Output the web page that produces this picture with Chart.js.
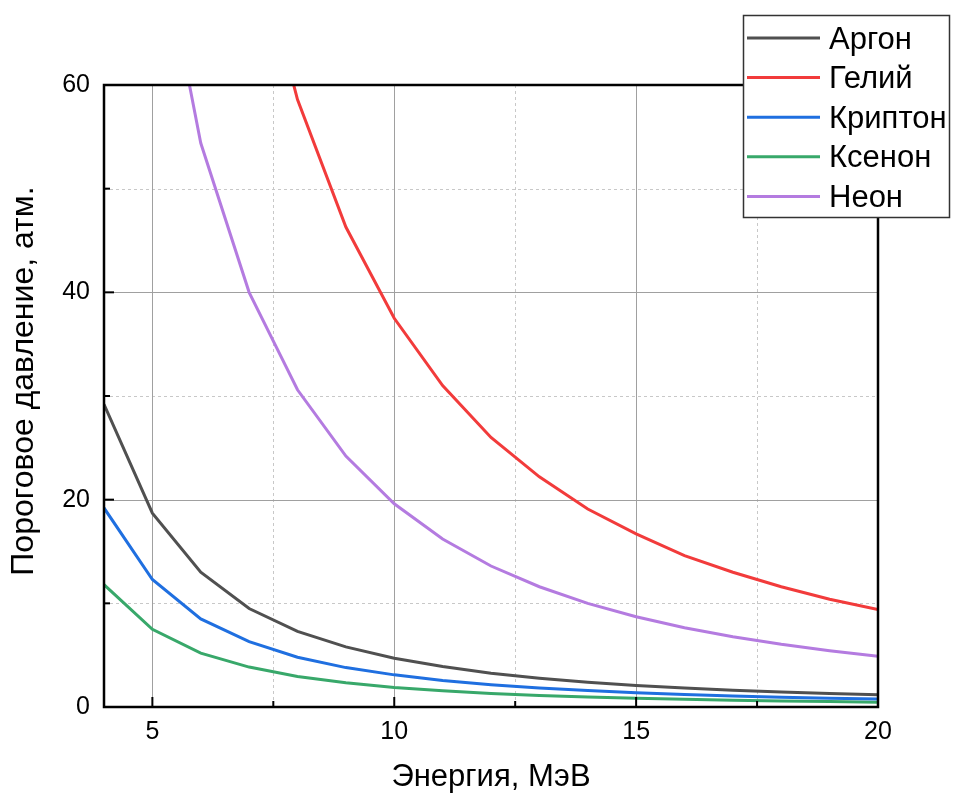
<!DOCTYPE html>
<html>
<head>
<meta charset="utf-8">
<script src="https://cdn.jsdelivr.net/npm/chart.js@4.4.1/dist/chart.umd.min.js"></script>
<style>
  body { margin: 0; background: #fff; }
</style>
</head>
<body>
<canvas id="gas" width="954" height="796"></canvas>
<script>
// энергия, МэВ
energy = [4, 5, 6, 7, 8, 9, 10, 11, 12, 13, 14, 15, 16, 17, 18, 19, 20];

// пороговое давление, атм.
argon   = [29.2, 18.7, 13.0, 9.5, 7.3, 5.8, 4.7, 3.9, 3.25, 2.77, 2.39, 2.08, 1.83, 1.62, 1.45, 1.3, 1.18];
helium  = [234, 150, 104, 76.5, 58.6, 46.3, 37.5, 31.0, 26.0, 22.2, 19.1, 16.7, 14.6, 13.0, 11.6, 10.4, 9.4];
krypton = [19.2, 12.3, 8.5, 6.3, 4.8, 3.8, 3.1, 2.55, 2.15, 1.83, 1.58, 1.37, 1.2, 1.07, 0.95, 0.85, 0.77];
xenon   = [11.8, 7.5, 5.2, 3.85, 2.95, 2.33, 1.89, 1.56, 1.31, 1.12, 0.96, 0.84, 0.74, 0.65, 0.58, 0.52, 0.47];
neon    = [122.5, 78.4, 54.4, 40.0, 30.6, 24.2, 19.6, 16.2, 13.6, 11.6, 10.0, 8.7, 7.65, 6.78, 6.05, 5.43, 4.9];

gasNames  = ['Аргон', 'Гелий', 'Криптон', 'Ксенон', 'Неон'];
gasColors = ['#505050', '#f23b3b', '#1f6fe0', '#38a86a', '#b47be0'];

xTicks = [5, 10, 15, 20];
xMinor = [7.5, 12.5, 17.5];
yTicks = [0, 20, 40, 60];
yMinor = [10, 30, 50];

xTitle = 'Энергия, МэВ';
yTitle = 'Пороговое давление, атм.';

var FONT = 'Arial, "Liberation Sans", sans-serif';

function xy(ys){
  var pts = [];
  for(let i = 0; i < energy.length; i++){
    pts.push({x: energy[i], y: ys[i]});
  }
  return pts;
}

var series = [argon, helium, krypton, xenon, neon];
var datasets = [];
for(let i = 0; i < series.length; i++){
  datasets.push({
    label: gasNames[i],
    data: xy(series[i]),
    borderColor: gasColors[i],
    backgroundColor: gasColors[i],
    borderWidth: 3,
    pointRadius: 0,
    tension: 0
  });
}

// сетка, рамка, внутренние засечки, подпись оси Y и легенда
var framePlugin = {
  id: 'frame',
  beforeDatasetsDraw(chart){
    var c = chart.ctx, a = chart.chartArea;
    var xs = chart.scales.x, ys = chart.scales.y;
    c.save();
    c.lineWidth = 1;
    c.strokeStyle = '#c8c8c8';
    c.setLineDash([3, 3]);
    xMinor.forEach(v => {
      var px = Math.round(xs.getPixelForValue(v)) + 0.5;
      c.beginPath(); c.moveTo(px, a.top); c.lineTo(px, a.bottom); c.stroke();
    });
    yMinor.forEach(v => {
      var py = Math.round(ys.getPixelForValue(v)) + 0.5;
      c.beginPath(); c.moveTo(a.left, py); c.lineTo(a.right, py); c.stroke();
    });
    c.setLineDash([]);
    c.strokeStyle = '#a0a0a0';
    xTicks.forEach(v => {
      var px = Math.round(xs.getPixelForValue(v)) + 0.5;
      c.beginPath(); c.moveTo(px, a.top); c.lineTo(px, a.bottom); c.stroke();
    });
    yTicks.forEach(v => {
      var py = Math.round(ys.getPixelForValue(v)) + 0.5;
      c.beginPath(); c.moveTo(a.left, py); c.lineTo(a.right, py); c.stroke();
    });
    c.restore();
  },
  afterDatasetsDraw(chart){
    var c = chart.ctx, a = chart.chartArea;
    var xs = chart.scales.x, ys = chart.scales.y;
    c.save();
    c.strokeStyle = '#000';
    c.lineWidth = 2.5;
    c.strokeRect(a.left, a.top, a.right - a.left, a.bottom - a.top);
    c.lineWidth = 2;
    xTicks.concat(xMinor).forEach(v => {
      var px = xs.getPixelForValue(v);
      var len = xTicks.includes(v) ? 10 : 6;
      c.beginPath(); c.moveTo(px, a.bottom); c.lineTo(px, a.bottom - len); c.stroke();
    });
    yTicks.concat(yMinor).forEach(v => {
      var py = ys.getPixelForValue(v);
      var len = yTicks.includes(v) ? 10 : 6;
      c.beginPath(); c.moveTo(a.left, py); c.lineTo(a.left + len, py); c.stroke();
    });
    c.restore();
  },
  afterDraw(chart){
    var c = chart.ctx;
    c.save();
    // подпись оси Y
    c.translate(33, 381);
    c.rotate(-Math.PI / 2);
    c.font = '32px ' + FONT;
    c.fillStyle = '#000';
    c.textAlign = 'center';
    c.textBaseline = 'alphabetic';
    c.fillText(yTitle, 0, 0);
    c.restore();

    // легенда
    var bx = 743.5, by = 15.5, bw = 206, bh = 202;
    c.save();
    c.fillStyle = '#fff';
    c.fillRect(bx, by, bw, bh);
    c.strokeStyle = '#333';
    c.lineWidth = 1.5;
    c.strokeRect(bx, by, bw, bh);
    c.font = '31px ' + FONT;
    c.textBaseline = 'middle';
    chart.data.datasets.forEach((ds, i) => {
      var ly = 38 + i * 39.6;
      c.strokeStyle = ds.borderColor;
      c.lineWidth = 3;
      c.beginPath(); c.moveTo(747, ly); c.lineTo(820, ly); c.stroke();
      c.fillStyle = '#000';
      c.fillText(ds.label, 829, ly + 2);
    });
    c.restore();
  }
};

var ctx = document.getElementById('gas').getContext('2d');
var gasChart = new Chart(ctx, {
  type: 'line',
  data: { datasets: datasets },
  plugins: [framePlugin],
  options: {
    responsive: false,
    animation: false,
    layout: { padding: { top: 85, right: 76, left: 0, bottom: 0 } },
    plugins: {
      legend: { display: false },
      tooltip: { enabled: false }
    },
    scales: {
      x: {
        type: 'linear',
        min: 4,
        max: 20,
        afterBuildTicks: s => { s.ticks = xTicks.map(v => ({ value: v })); },
        afterFit: s => { s.height = 89; },
        grid: { display: false, tickLength: 0 },
        border: { display: false },
        ticks: { color: '#000', font: { family: FONT, size: 25 }, padding: 10, maxRotation: 0 },
        title: { display: true, text: xTitle, color: '#000', font: { family: FONT, size: 31 }, padding: { top: 0, bottom: 0 } }
      },
      y: {
        type: 'linear',
        min: 0,
        max: 60,
        afterBuildTicks: s => { s.ticks = yTicks.map(v => ({ value: v })); },
        afterFit: s => { s.width = 104; },
        grid: { display: false, tickLength: 0 },
        border: { display: false },
        ticks: { color: '#000', font: { family: FONT, size: 25 }, padding: 14 },
        title: { display: false }
      }
    }
  }
});
</script>
</body>
</html>
